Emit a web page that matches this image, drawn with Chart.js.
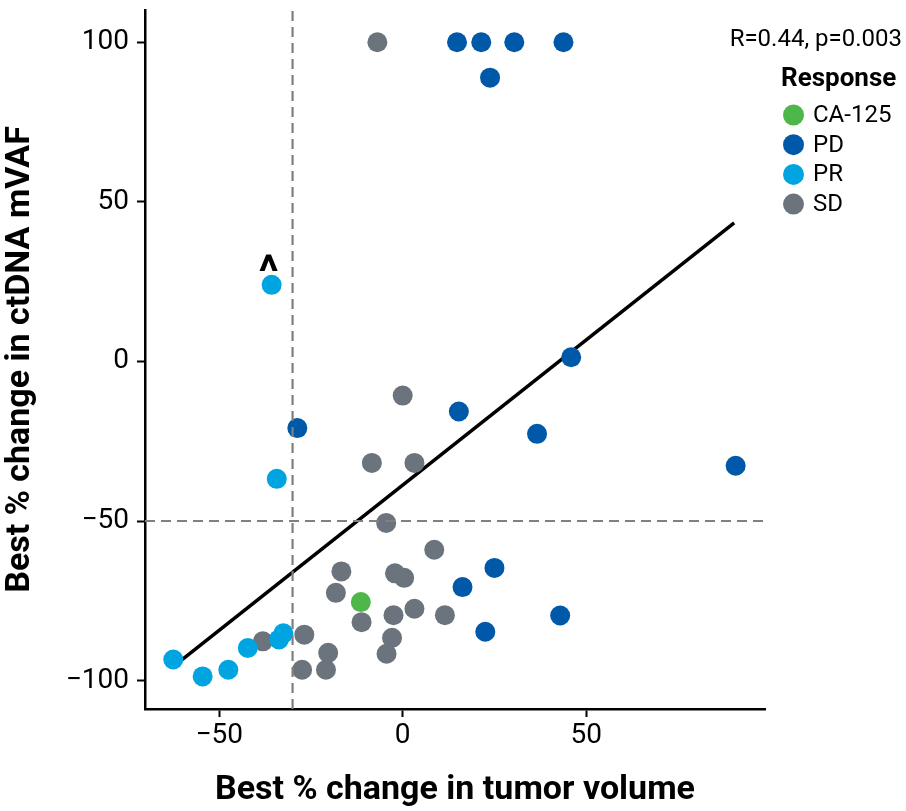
<!DOCTYPE html>
<html>
<head>
<meta charset="utf-8">
<script src="https://cdn.jsdelivr.net/npm/chart.js@4.4.1/dist/chart.umd.min.js"></script>
<style>
  html, body { margin: 0; padding: 0; background: #fff; }
  #wrap { width: 906px; height: 811px; position: relative; }
</style>
</head>
<body>
<div id="wrap"><canvas id="scatter" width="906" height="811"></canvas></div>
<script>
// values
const xTicks = [-50, 0, 50];
const yTicks = [-100, -50, 0, 50, 100];
const xLimits = [-70.2, 98.7];
const yLimits = [-108.9, 110.1];

const groups = ['CA-125', 'PD', 'PR', 'SD'];
const groupColors = ['#4DB74A', '#0059A8', '#00A4E1', '#6B737C'];

const ca125X = [-11.4];
const ca125Y = [-75.4];

const pdX = [14.8, 21.4, 30.4, 43.8, 23.8, 45.9, 15.3, 36.6, 90.7, -28.7, 25.0, 16.3, 42.9, 22.5];
const pdY = [100, 100, 100, 100, 88.9, 1.3, -15.7, -22.7, -32.7, -20.9, -64.7, -70.7, -79.6, -84.7];

const prX = [-35.7, -34.3, -62.5, -54.5, -47.5, -42.2, -32.5, -33.7];
const prY = [24.0, -36.8, -93.4, -98.7, -96.6, -89.8, -85.2, -87.1];

const sdX = [-6.9, 0, -8.4, 3.2, -4.5, 8.6, -16.7, -18.2, -11.2, -2.1, 0.4, -2.5, 3.2, 11.5, -2.9, -4.4, -38.1, -26.8, -20.3, -27.4, -20.9];
const sdY = [100, -10.7, -31.8, -31.8, -50.6, -59.0, -65.8, -72.5, -81.7, -66.4, -67.8, -79.5, -77.5, -79.5, -86.6, -91.6, -87.7, -85.6, -91.3, -96.6, -96.6];

// linear fit ends
const fitX = [-62.5, 90.3];
const fitY = [-95.6, 43.4];

const cutX = -30;
const cutY = -50;
const statText = 'R=0.44, p=0.003';
const flaggedPoint = [-35.7, 24.0];

const toPts = (xs, ys) => xs.map((x, i) => ({ x: x, y: ys[i] }));

const FONT = '"Roboto", "Liberation Sans", sans-serif';

function pointSet(label, xs, ys, color) {
  return {
    type: 'scatter',
    label: label,
    data: toPts(xs, ys),
    backgroundColor: color,
    borderWidth: 0,
    pointRadius: 10,
    pointHoverRadius: 10,
    order: 1
  };
}

const sideText = {
  id: 'sideText',
  afterDraw(chart) {
    const ctx = chart.ctx;
    ctx.save();
    ctx.fillStyle = '#000';
    ctx.textBaseline = 'middle';

    ctx.font = '24px ' + FONT;
    ctx.textAlign = 'right';
    ctx.fillText(statText, 902, 40);

    ctx.textAlign = 'left';
    ctx.font = 'bold 26px ' + FONT;
    ctx.fillText('Response', 781, 79);

    ctx.font = '24px ' + FONT;
    groups.forEach((g, i) => {
      const cy = 115 + i * 29.7;
      ctx.beginPath();
      ctx.arc(793.5, cy, 10.5, 0, Math.PI * 2);
      ctx.fillStyle = groupColors[i];
      ctx.fill();
      ctx.fillStyle = '#000';
      ctx.fillText(g, 813, cy + 1);
    });

    // caret above the flagged PR point
    const xs = chart.scales.x, ys = chart.scales.y;
    ctx.font = 'bold 46px ' + FONT;
    ctx.textAlign = 'center';
    ctx.textBaseline = 'alphabetic';
    ctx.fillText('^', xs.getPixelForValue(flaggedPoint[0]) - 3, ys.getPixelForValue(flaggedPoint[1]) + 3);
    ctx.restore();
  }
};

new Chart(document.getElementById('scatter'), {
  type: 'scatter',
  data: {
    datasets: [
      {
        type: 'line',
        data: [{ x: cutX, y: yLimits[0] }, { x: cutX, y: yLimits[1] }],
        borderColor: '#808080',
        borderWidth: 2.2,
        borderDash: [10, 6],
        pointRadius: 0,
        order: 0
      },
      {
        type: 'line',
        data: [{ x: xLimits[0], y: cutY }, { x: xLimits[1], y: cutY }],
        borderColor: '#808080',
        borderWidth: 2.2,
        borderDash: [10, 6],
        pointRadius: 0,
        order: 0
      },
      pointSet('CA-125', ca125X, ca125Y, groupColors[0]),
      pointSet('PD', pdX, pdY, groupColors[1]),
      pointSet('PR', prX, prY, groupColors[2]),
      pointSet('SD', sdX, sdY, groupColors[3]),
      {
        type: 'line',
        data: toPts(fitX, fitY),
        borderColor: '#000',
        borderWidth: 3.5,
        pointRadius: 0,
        order: 2
      }
    ]
  },
  options: {
    responsive: false,
    animation: false,
    devicePixelRatio: 1,
    layout: { padding: { top: 10, right: 141, left: 0, bottom: 0 } },
    plugins: {
      legend: { display: false },
      tooltip: { enabled: false }
    },
    scales: {
      x: {
        type: 'linear',
        min: xLimits[0],
        max: xLimits[1],
        afterBuildTicks: s => { s.ticks = xTicks.map(v => ({ value: v })); },
        afterFit: s => { s.height = 102; s.paddingLeft = 0; s.paddingRight = 0; },
        grid: { drawOnChartArea: false, tickLength: 8, tickColor: '#000', tickWidth: 2 },
        border: { color: '#000', width: 2.5 },
        ticks: {
          color: '#000',
          padding: 2,
          font: { family: FONT, size: 28 },
          callback: v => String(v).replace('-', '\u2212')
        },
        title: {
          display: true,
          text: 'Best % change in tumor volume',
          color: '#000',
          font: { family: FONT, size: 34, weight: 'bold' },
          padding: { top: 8, bottom: 0 }
        }
      },
      y: {
        type: 'linear',
        min: yLimits[0],
        max: yLimits[1],
        afterBuildTicks: s => { s.ticks = yTicks.map(v => ({ value: v })); },
        afterFit: s => { s.width = 145; s.paddingTop = 0; s.paddingBottom = 0; },
        grid: { drawOnChartArea: false, tickLength: 8, tickColor: '#000', tickWidth: 2 },
        border: { color: '#000', width: 2.5 },
        ticks: {
          color: '#000',
          padding: 8,
          font: { family: FONT, size: 28 },
          callback: v => String(v).replace('-', '\u2212')
        },
        title: {
          display: true,
          text: 'Best % change in ctDNA mVAF',
          color: '#000',
          font: { family: FONT, size: 34, weight: 'bold' },
          padding: { top: 0, bottom: 8 }
        }
      }
    }
  },
  plugins: [sideText]
});
</script>
</body>
</html>
